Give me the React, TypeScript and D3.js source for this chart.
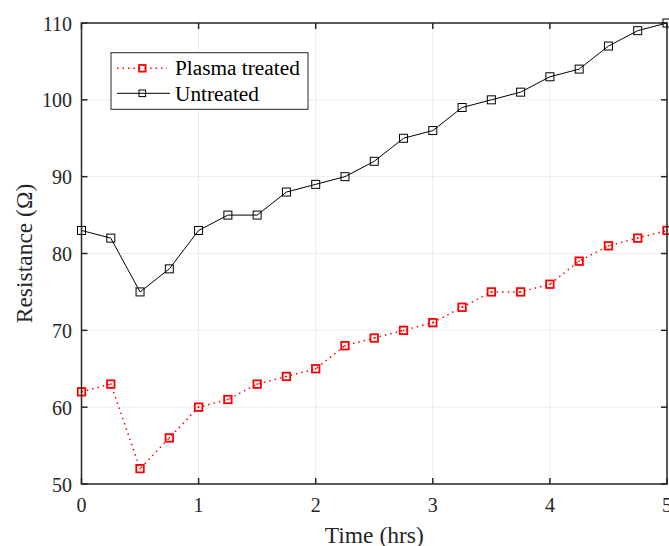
import React from "react";
import * as d3 from "d3";

const times = [0, 0.25, 0.5, 0.75, 1, 1.25, 1.5, 1.75, 2, 2.25, 2.5, 2.75, 3, 3.25, 3.5, 3.75, 4, 4.25, 4.5, 4.75, 5];
const plasmaTreated = [62, 63, 52, 56, 60, 61, 63, 64, 65, 68, 69, 70, 71, 73, 75, 75, 76, 79, 81, 82, 83];
const untreated = [83, 82, 75, 78, 83, 85, 85, 88, 89, 90, 92, 95, 96, 99, 100, 101, 103, 104, 107, 109, 110];
const xTicks = [0, 1, 2, 3, 4, 5];
const yTicks = [50, 60, 70, 80, 90, 100, 110];

const W = 669, H = 546;
const L = 81.5, R = 667, T = 23, B = 484;
const FONT = "'Liberation Serif', 'Times New Roman', serif";

export default function App() {
  const x = d3.scaleLinear().domain([0, 5]).range([L, R]);
  const y = d3.scaleLinear().domain([50, 110]).range([B, T]);
  const line = d3.line<number>().x((_, i) => x(times[i])).y((d) => y(d));
  const mb = 8;
  const mr = 7.5;
  return (
    <svg width={W} height={H} style={{ position: "absolute", left: 0, top: 0 }} fontFamily={FONT}>
      <rect x={0} y={0} width={W} height={H} fill="#fff" />
      {/* grid */}
      {xTicks.map((t) => (
        <line key={"gx" + t} x1={x(t)} x2={x(t)} y1={T} y2={B} stroke="#ececec" strokeWidth={1} />
      ))}
      {yTicks.map((t) => (
        <line key={"gy" + t} x1={L} x2={R} y1={y(t)} y2={y(t)} stroke="#ececec" strokeWidth={1} />
      ))}
      {/* series */}
      <path d={line(untreated) || ""} fill="none" stroke="#000" strokeWidth={1} />
      {untreated.map((v, i) => (
        <rect key={"u" + i} x={x(times[i]) - mb / 2} y={y(v) - mb / 2} width={mb} height={mb} fill="none" stroke="#000" strokeWidth={1} />
      ))}
      <path d={line(plasmaTreated) || ""} fill="none" stroke="#ff0000" strokeWidth={1.5} strokeDasharray="1.5,4" />
      {plasmaTreated.map((v, i) => (
        <g key={"p" + i}>
          <rect x={x(times[i]) - mr / 2} y={y(v) - mr / 2} width={mr} height={mr} fill="none" stroke="#ff0000" strokeWidth={1.8} />
          <rect x={x(times[i]) - 0.75} y={y(v) - 0.75} width={1.5} height={1.5} fill="#ff0000" />
        </g>
      ))}
      {/* box */}
      <rect x={L} y={T} width={R - L} height={B - T} fill="none" stroke="#262626" strokeWidth={1.5} />
      {/* ticks */}
      {xTicks.map((t) => (
        <g key={"tx" + t}>
          <line x1={x(t)} x2={x(t)} y1={B} y2={B - 6} stroke="#262626" strokeWidth={1.5} />
          <line x1={x(t)} x2={x(t)} y1={T} y2={T + 6} stroke="#262626" strokeWidth={1.5} />
          <text x={x(t)} y={B + 28} textAnchor="middle" fontSize={20} fill="#262626">{t}</text>
        </g>
      ))}
      {yTicks.map((t) => (
        <g key={"ty" + t}>
          <line x1={L} x2={L + 6} y1={y(t)} y2={y(t)} stroke="#262626" strokeWidth={1.5} />
          <line x1={R} x2={R - 6} y1={y(t)} y2={y(t)} stroke="#262626" strokeWidth={1.5} />
          <text x={L - 9.5} y={y(t) + 7.5} textAnchor="end" fontSize={20} fill="#262626">{t}</text>
        </g>
      ))}
      {/* axis labels */}
      <text x={(L + R) / 2} y={543} textAnchor="middle" fontSize={23.5} fill="#262626">Time (hrs)</text>
      <text transform={`translate(32,${(T + B) / 2}) rotate(-90)`} textAnchor="middle" fontSize={23.5} fill="#262626">Resistance (Ω)</text>
      {/* legend */}
      <rect x={111} y={52.7} width={197} height={56.6} fill="#fff" stroke="#262626" strokeWidth={1} />
      <line x1={117} x2={167} y1={68.3} y2={68.3} stroke="#ff0000" strokeWidth={1.5} strokeDasharray="1.5,4" />
      <rect x={139} y={65} width={6.6} height={6.6} fill="none" stroke="#ff0000" strokeWidth={1.8} />
      <text x={175} y={75} fontSize={21.3} fill="#000">Plasma treated</text>
      <line x1={117} x2={170} y1={93.3} y2={93.3} stroke="#000" strokeWidth={1} />
      <rect x={139} y={90} width={6.6} height={6.6} fill="none" stroke="#000" strokeWidth={1} />
      <text x={175} y={100.7} fontSize={21.3} fill="#000">Untreated</text>
    </svg>
  );
}
